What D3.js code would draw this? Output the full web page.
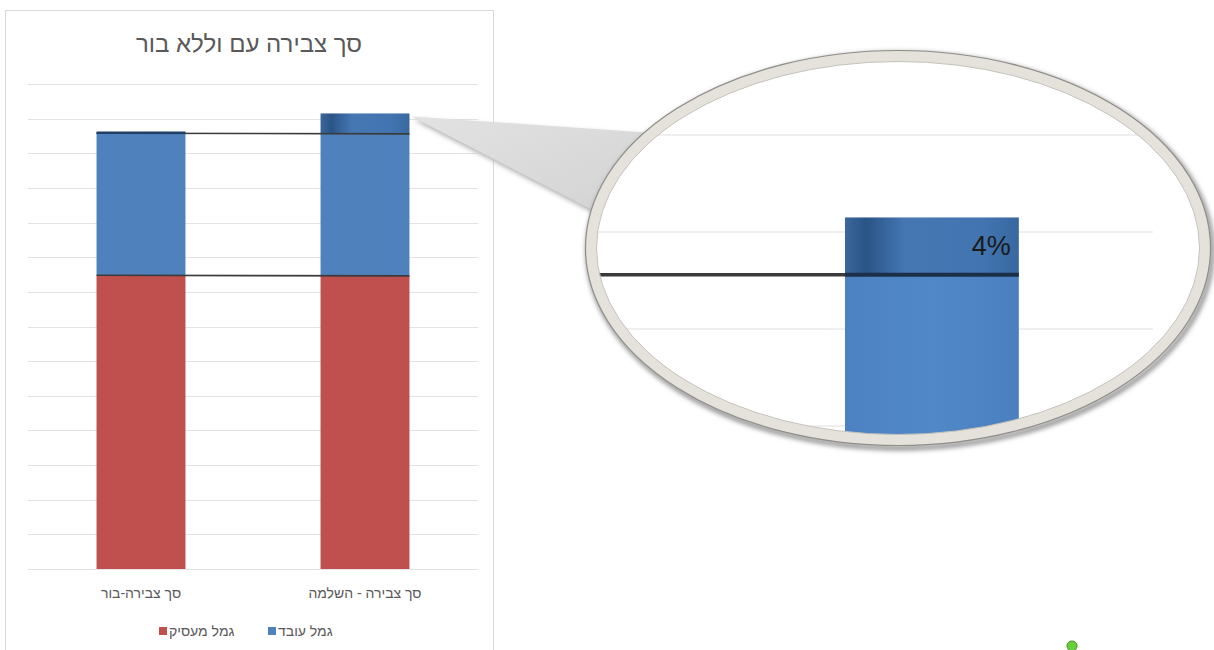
<!DOCTYPE html>
<html lang="he">
<head>
<meta charset="utf-8">
<title>סך צבירה עם וללא בור</title>
<script src="https://d3js.org/d3.v7.min.js"></script>
<style>
  body { margin: 0; background: #fff; }
  svg { display: block; font-family: "Liberation Sans", Arial, sans-serif; }
</style>
</head>
<body>
<div id="home"></div>
<script>
// data
const categories = ["סך צבירה-בור", "סך צבירה - השלמה"];
const employer = [8.48, 8.46];      // גמל מעסיק
const employee = [4.1, 4.1];        // גמל עובד
const completion = [0, 0.59];       // השלמה (zoomed piece)
const legendNames = ["גמל מעסיק", "גמל עובד"];
const calloutLabel = "4%";
const title = "סך צבירה עם וללא בור";

const w = 1214, h = 650;
const svg = d3.select("#home").append("svg").attr("width", w).attr("height", h);
const defs = svg.append("defs");

// gradients / filters
const topGrad = defs.append("linearGradient").attr("id", "topGrad");
[["0%", "#3a679c"], ["12%", "#2b5486"], ["35%", "#4577b3"], ["80%", "#4174b0"], ["100%", "#38689f"]]
  .forEach(s => topGrad.append("stop").attr("offset", s[0]).attr("stop-color", s[1]));
const lowGrad = defs.append("linearGradient").attr("id", "lowGrad");
[["0%", "#4c82c2"], ["50%", "#5188c8"], ["100%", "#4b80c0"]]
  .forEach(s => lowGrad.append("stop").attr("offset", s[0]).attr("stop-color", s[1]));
const wedgeGrad = defs.append("linearGradient").attr("id", "wedgeGrad")
  .attr("x1", "0").attr("y1", "0").attr("x2", "1").attr("y2", "1");
[["0%", "#e2e2e2"], ["60%", "#d9d9d9"], ["100%", "#d2d2d2"]]
  .forEach(s => wedgeGrad.append("stop").attr("offset", s[0]).attr("stop-color", s[1]));
defs.append("filter").attr("id", "blur").attr("x", "-10%").attr("y", "-10%").attr("width", "120%").attr("height", "120%")
  .append("feGaussianBlur").attr("stdDeviation", 2.5);

// chart frame
svg.append("rect")
   .attr("x", 5.5).attr("y", 10.5).attr("width", 488).attr("height", 660)
   .attr("fill", "#fff").attr("stroke", "#d9d9d9");

svg.append("text")
   .attr("x", 249).attr("y", 52)
   .attr("text-anchor", "middle")
   .attr("font-size", 24).attr("fill", "#595959")
   .text(title);

// scales
const x = d3.scaleBand().domain(categories).range([28, 478]).paddingInner(0.603).paddingOuter(0.306);
const y = d3.scaleLinear().domain([0, 14]).range([569, 84]);

// gridlines
svg.append("g").selectAll("line")
   .data(y.ticks(14))
   .enter().append("line")
   .attr("x1", x.range()[0]).attr("x2", x.range()[1])
   .attr("y1", d => Math.round(y(d)) + 0.5).attr("y2", d => Math.round(y(d)) + 0.5)
   .attr("stroke", "#e3e3e3").attr("stroke-width", 1.2);

// stacked data
const rows = categories.map((c, i) => ({
  cat: c,
  segs: [
    { y0: 0, y1: employer[i], fill: "#c0504d" },
    { y0: employer[i], y1: employer[i] + employee[i], fill: "#4f81bd" },
    { y0: employer[i] + employee[i], y1: employer[i] + employee[i] + completion[i], fill: "url(#topGrad)" }
  ]
}));

const bars = svg.append("g");
rows.forEach(r => {
  bars.selectAll(null)
      .data(r.segs.filter(s => s.y1 > s.y0))
      .enter().append("rect")
      .attr("x", x(r.cat)).attr("width", x.bandwidth())
      .attr("y", d => y(d.y1)).attr("height", d => y(d.y0) - y(d.y1))
      .attr("fill", d => d.fill);
});

// series lines (Excel style) across the bars
const tops1 = rows.map(r => r.segs[0].y1);
const tops2 = rows.map(r => r.segs[1].y1);
[tops1, tops2].forEach(t => {
  svg.append("line")
     .attr("x1", x(categories[0])).attr("x2", x(categories[1]) + x.bandwidth())
     .attr("y1", y(t[0])).attr("y2", y(t[1]))
     .attr("stroke", "#3b3b3b").attr("stroke-width", 1.6);
});
svg.append("line")
   .attr("x1", x(categories[0])).attr("x2", x(categories[0]) + x.bandwidth())
   .attr("y1", y(tops2[0]) - 0.5).attr("y2", y(tops2[0]) - 0.5)
   .attr("stroke", "#1f3f66").attr("stroke-width", 2.5);

// category labels
svg.append("g").selectAll("text")
   .data(categories)
   .enter().append("text")
   .attr("x", d => x(d) + x.bandwidth() / 2).attr("y", 598)
   .attr("text-anchor", "middle")
   .attr("font-size", 14).attr("fill", "#595959")
   .text(d => d);

// legend
const legendColors = ["#c0504d", "#4f81bd"];
const legendX = [159, 268];
legendNames.forEach((n, i) => {
  svg.append("rect").attr("x", legendX[i]).attr("y", 627).attr("width", 8).attr("height", 8).attr("fill", legendColors[i]);
  svg.append("text").attr("x", legendX[i] + 10).attr("y", 636)
     .attr("font-size", 14).attr("fill", "#595959").text(n);
});

// callout wedge from the top piece to the magnifier
const tip = [x(categories[1]) + x.bandwidth() + 2, y(tops2[1] + completion[1]) + 3];
const wedge = [tip, [652, 133], [598, 213]];
svg.append("polygon").attr("points", wedge.map(p => p.join(",")).join(" "))
   .attr("fill", "#aaa").attr("filter", "url(#blur)").attr("transform", "translate(2,3)");
svg.append("polygon").attr("points", wedge.map(p => p.join(",")).join(" "))
   .attr("fill", "url(#wedgeGrad)");

// magnifier ellipse
const E = { cx: 898, cy: 248, rx: 307, ry: 192 };
svg.append("ellipse").attr("cx", E.cx + 2).attr("cy", E.cy + 3).attr("rx", E.rx + 5).attr("ry", E.ry + 5)
   .attr("fill", "none").attr("stroke", "#777").attr("stroke-width", 4).attr("filter", "url(#blur)");
svg.append("ellipse").attr("cx", E.cx).attr("cy", E.cy).attr("rx", E.rx).attr("ry", E.ry)
   .attr("fill", "#fff");

defs.append("clipPath").attr("id", "lens")
   .append("ellipse").attr("cx", E.cx).attr("cy", E.cy).attr("rx", E.rx - 5).attr("ry", E.ry - 5);

// zoomed copy of the scales
const xz = x.copy().range(x.range().map(v => 845 + (v - x(categories[1])) * 1.955));
const yz = y.copy().range(y.range().map(v => 135 + (v - y(14)) * 2.8));

const lens = svg.append("g").attr("clip-path", "url(#lens)");
lens.selectAll("line.g")
    .data(y.ticks(14))
    .enter().append("line")
    .attr("x1", xz.range()[0]).attr("x2", xz.range()[1])
    .attr("y1", d => yz(d)).attr("y2", d => yz(d))
    .attr("stroke", "#efefef").attr("stroke-width", 2);

const zr = rows[1];
lens.append("rect")
    .attr("x", xz(zr.cat)).attr("width", xz.bandwidth())
    .attr("y", yz(zr.segs[1].y1)).attr("height", yz(zr.segs[1].y0) - yz(zr.segs[1].y1))
    .attr("fill", "url(#lowGrad)");
lens.append("rect")
    .attr("x", xz(zr.cat)).attr("width", xz.bandwidth())
    .attr("y", yz(zr.segs[2].y1)).attr("height", yz(zr.segs[2].y0) - yz(zr.segs[2].y1))
    .attr("fill", "url(#topGrad)");
lens.append("line")
    .attr("x1", xz.range()[0]).attr("x2", xz(zr.cat))
    .attr("y1", yz(tops2[1])).attr("y2", yz(tops2[1]))
    .attr("stroke", "#3a3a3a").attr("stroke-width", 3.5);
lens.append("line")
    .attr("x1", xz(zr.cat)).attr("x2", xz(zr.cat) + xz.bandwidth())
    .attr("y1", yz(tops2[1])).attr("y2", yz(tops2[1]))
    .attr("stroke", "#1c2f48").attr("stroke-width", 4);
lens.append("text")
    .attr("x", xz(zr.cat) + xz.bandwidth() - 8).attr("y", yz(tops2[1]) - 20)
    .attr("text-anchor", "end")
    .attr("font-size", 27).attr("fill", "#1a1a1a")
    .text(calloutLabel);

// ring
svg.append("ellipse").attr("cx", E.cx).attr("cy", E.cy).attr("rx", E.rx).attr("ry", E.ry)
   .attr("fill", "none").attr("stroke", "#e4e2da").attr("stroke-width", 11);
svg.append("ellipse").attr("cx", E.cx).attr("cy", E.cy).attr("rx", E.rx + 5.5).attr("ry", E.ry + 5.5)
   .attr("fill", "none").attr("stroke", "#8f8d88").attr("stroke-width", 1.2);
svg.append("ellipse").attr("cx", E.cx).attr("cy", E.cy).attr("rx", E.rx - 5.5).attr("ry", E.ry - 5.5)
   .attr("fill", "none").attr("stroke", "#c4c2bb").attr("stroke-width", 1);

// little green handle
svg.append("circle").attr("cx", 1072).attr("cy", 646).attr("r", 5)
   .attr("fill", "#66d23a").attr("stroke", "#3f8f22").attr("stroke-width", 1);
</script>
</body>
</html>
